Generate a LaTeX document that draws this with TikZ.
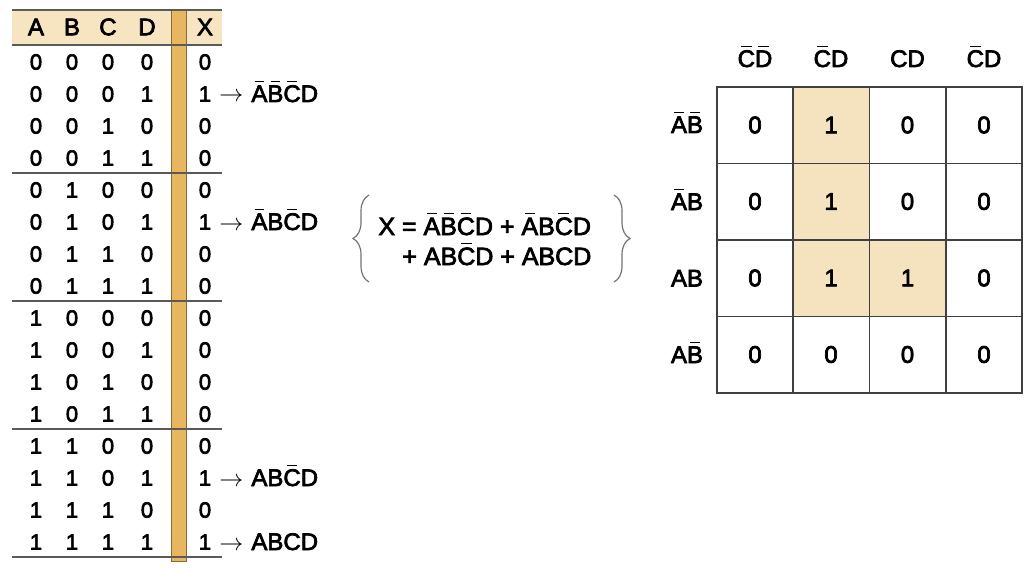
\documentclass[tikz,border=0pt]{standalone}
\usepackage{fontspec}
\setmainfont{Liberation Sans}[UprightFeatures={FakeBold=3}]
\usetikzlibrary{decorations.pathreplacing}
\newsavebox{\nbbox}
\newcommand{\nb}[1]{\sbox{\nbbox}{#1}\makebox[\wd\nbbox][c]{\raisebox{\dimexpr\ht\nbbox+1.8pt\relax}{\rule{0.6\wd\nbbox}{0.5pt}}}\llap{\usebox{\nbbox}}}
\definecolor{hdr}{HTML}{F7E5C2}
\definecolor{barfill}{HTML}{E8B660}
\definecolor{barline}{HTML}{8A6A35}
\definecolor{cellfill}{HTML}{F5E2BF}
\definecolor{rulec}{HTML}{5A5A5A}
\begin{document}
\begin{tikzpicture}[x=0.5pt,y=-0.5pt,
  tt/.style={inner sep=0pt,font=\fontsize{11}{13}\selectfont},
  th/.style={inner sep=0pt,font=\fontsize{12}{14}\selectfont},
  term/.style={anchor=base west,inner sep=0pt,font=\fontsize{12}{14}\selectfont},
  eqn/.style={anchor=base west,inner sep=0pt,font=\fontsize{12.5}{15}\selectfont},
  km/.style={inner sep=0pt,font=\fontsize{12}{14}\selectfont},
  kl/.style={anchor=base,inner sep=0pt,font=\fontsize{12}{14}\selectfont},
  sepline/.style={draw=rulec,line width=1pt},
  kgrid/.style={draw=black!75,line width=0.9pt},
  bracestyle/.style={draw=black!55,line width=0.6pt,decorate,decoration={brace,amplitude=8pt}}]
\useasboundingbox (0,0) rectangle (1032,567);
% ---------- truth table ----------
\fill[hdr] (12,10) rectangle (222,45);
\draw[barline,fill=barfill,line width=0.5pt] (171,10) rectangle (186,561);
\foreach \yy in {10,45,173,301,429,557}{
  \draw[sepline] (12,\yy) -- (222,\yy);
}
\node[th] (hA) at (36,27) {A};
\node[th] (hB) at (72,27) {B};
\node[th] (hC) at (108,27) {C};
\node[th] (hD) at (147,27) {D};
\node[th] (hX) at (205,27) {X};
\foreach \a/\b/\c/\d/\x [count=\i from 0] in
  {0/0/0/0/0,0/0/0/1/1,0/0/1/0/0,0/0/1/1/0,
   0/1/0/0/0,0/1/0/1/1,0/1/1/0/0,0/1/1/1/0,
   1/0/0/0/0,1/0/0/1/0,1/0/1/0/0,1/0/1/1/0,
   1/1/0/0/0,1/1/0/1/1,1/1/1/0/0,1/1/1/1/1}{
  \pgfmathsetmacro\yy{62+32*\i}
  \node[tt] (a\i) at (36,\yy) {\a};
  \node[tt] (b\i) at (72,\yy) {\b};
  \node[tt] (c\i) at (108,\yy) {\c};
  \node[tt] (d\i) at (147,\yy) {\d};
  \node[tt] (x\i) at (205,\yy) {\x};
}
\node[term] (t1) at (219,102) {$\rightarrow$\hspace{4pt}\nb{A}\nb{B}\nb{C}D};
\node[term] (t5) at (219,230) {$\rightarrow$\hspace{4pt}\nb{A}B\nb{C}D};
\node[term] (t13) at (219,486) {$\rightarrow$\hspace{4pt}AB\nb{C}D};
\node[term] (t15) at (219,550) {$\rightarrow$\hspace{4pt}ABCD};
% ---------- equation ----------
\node[eqn] (eq1) at (378,235) {X = \nb{A}\nb{B}\nb{C}D + \nb{A}B\nb{C}D};
\node[eqn] (eq2) at (402,265) {+ AB\nb{C}D + ABCD};
\draw[bracestyle] (369,282) -- (369,195);
\draw[bracestyle] (614,195) -- (614,282);
% ---------- K-map ----------
\fill[cellfill] (793.25,87) rectangle (869.5,316.5);
\fill[cellfill] (869.5,240) rectangle (945.75,316.5);
\draw[kgrid] (717,87) rectangle (1022,393);
\foreach \xx in {793.25,869.5,945.75}{\draw[kgrid] (\xx,87) -- (\xx,393);}
\foreach \yy in {163.5,240,316.5}{\draw[kgrid] (717,\yy) -- (1022,\yy);}
\node[kl] (c1) at (755,67) {\nb{C}\nb{D}};
\node[kl] (c2) at (831,67) {\nb{C}D};
\node[kl] (c3) at (907.5,67) {CD};
\node[kl] (c4) at (984,67) {\nb{C}D};
\node[kl] (r1) at (687,133) {\nb{A}\nb{B}};
\node[kl] (r2) at (687,210) {\nb{A}B};
\node[kl] (r3) at (687,286.5) {AB};
\node[kl] (r4) at (687,363) {A\nb{B}};
\foreach \p/\q/\r/\s [count=\j from 0] in {0/1/0/0,0/1/0/0,0/1/1/0,0/0/0/0}{
  \pgfmathsetmacro\yy{125+76.5*\j}
  \node[km] (k\j a) at (755,\yy) {\p};
  \node[km] (k\j b) at (831,\yy) {\q};
  \node[km] (k\j c) at (907.5,\yy) {\r};
  \node[km] (k\j d) at (984,\yy) {\s};
}
\end{tikzpicture}
\end{document}
